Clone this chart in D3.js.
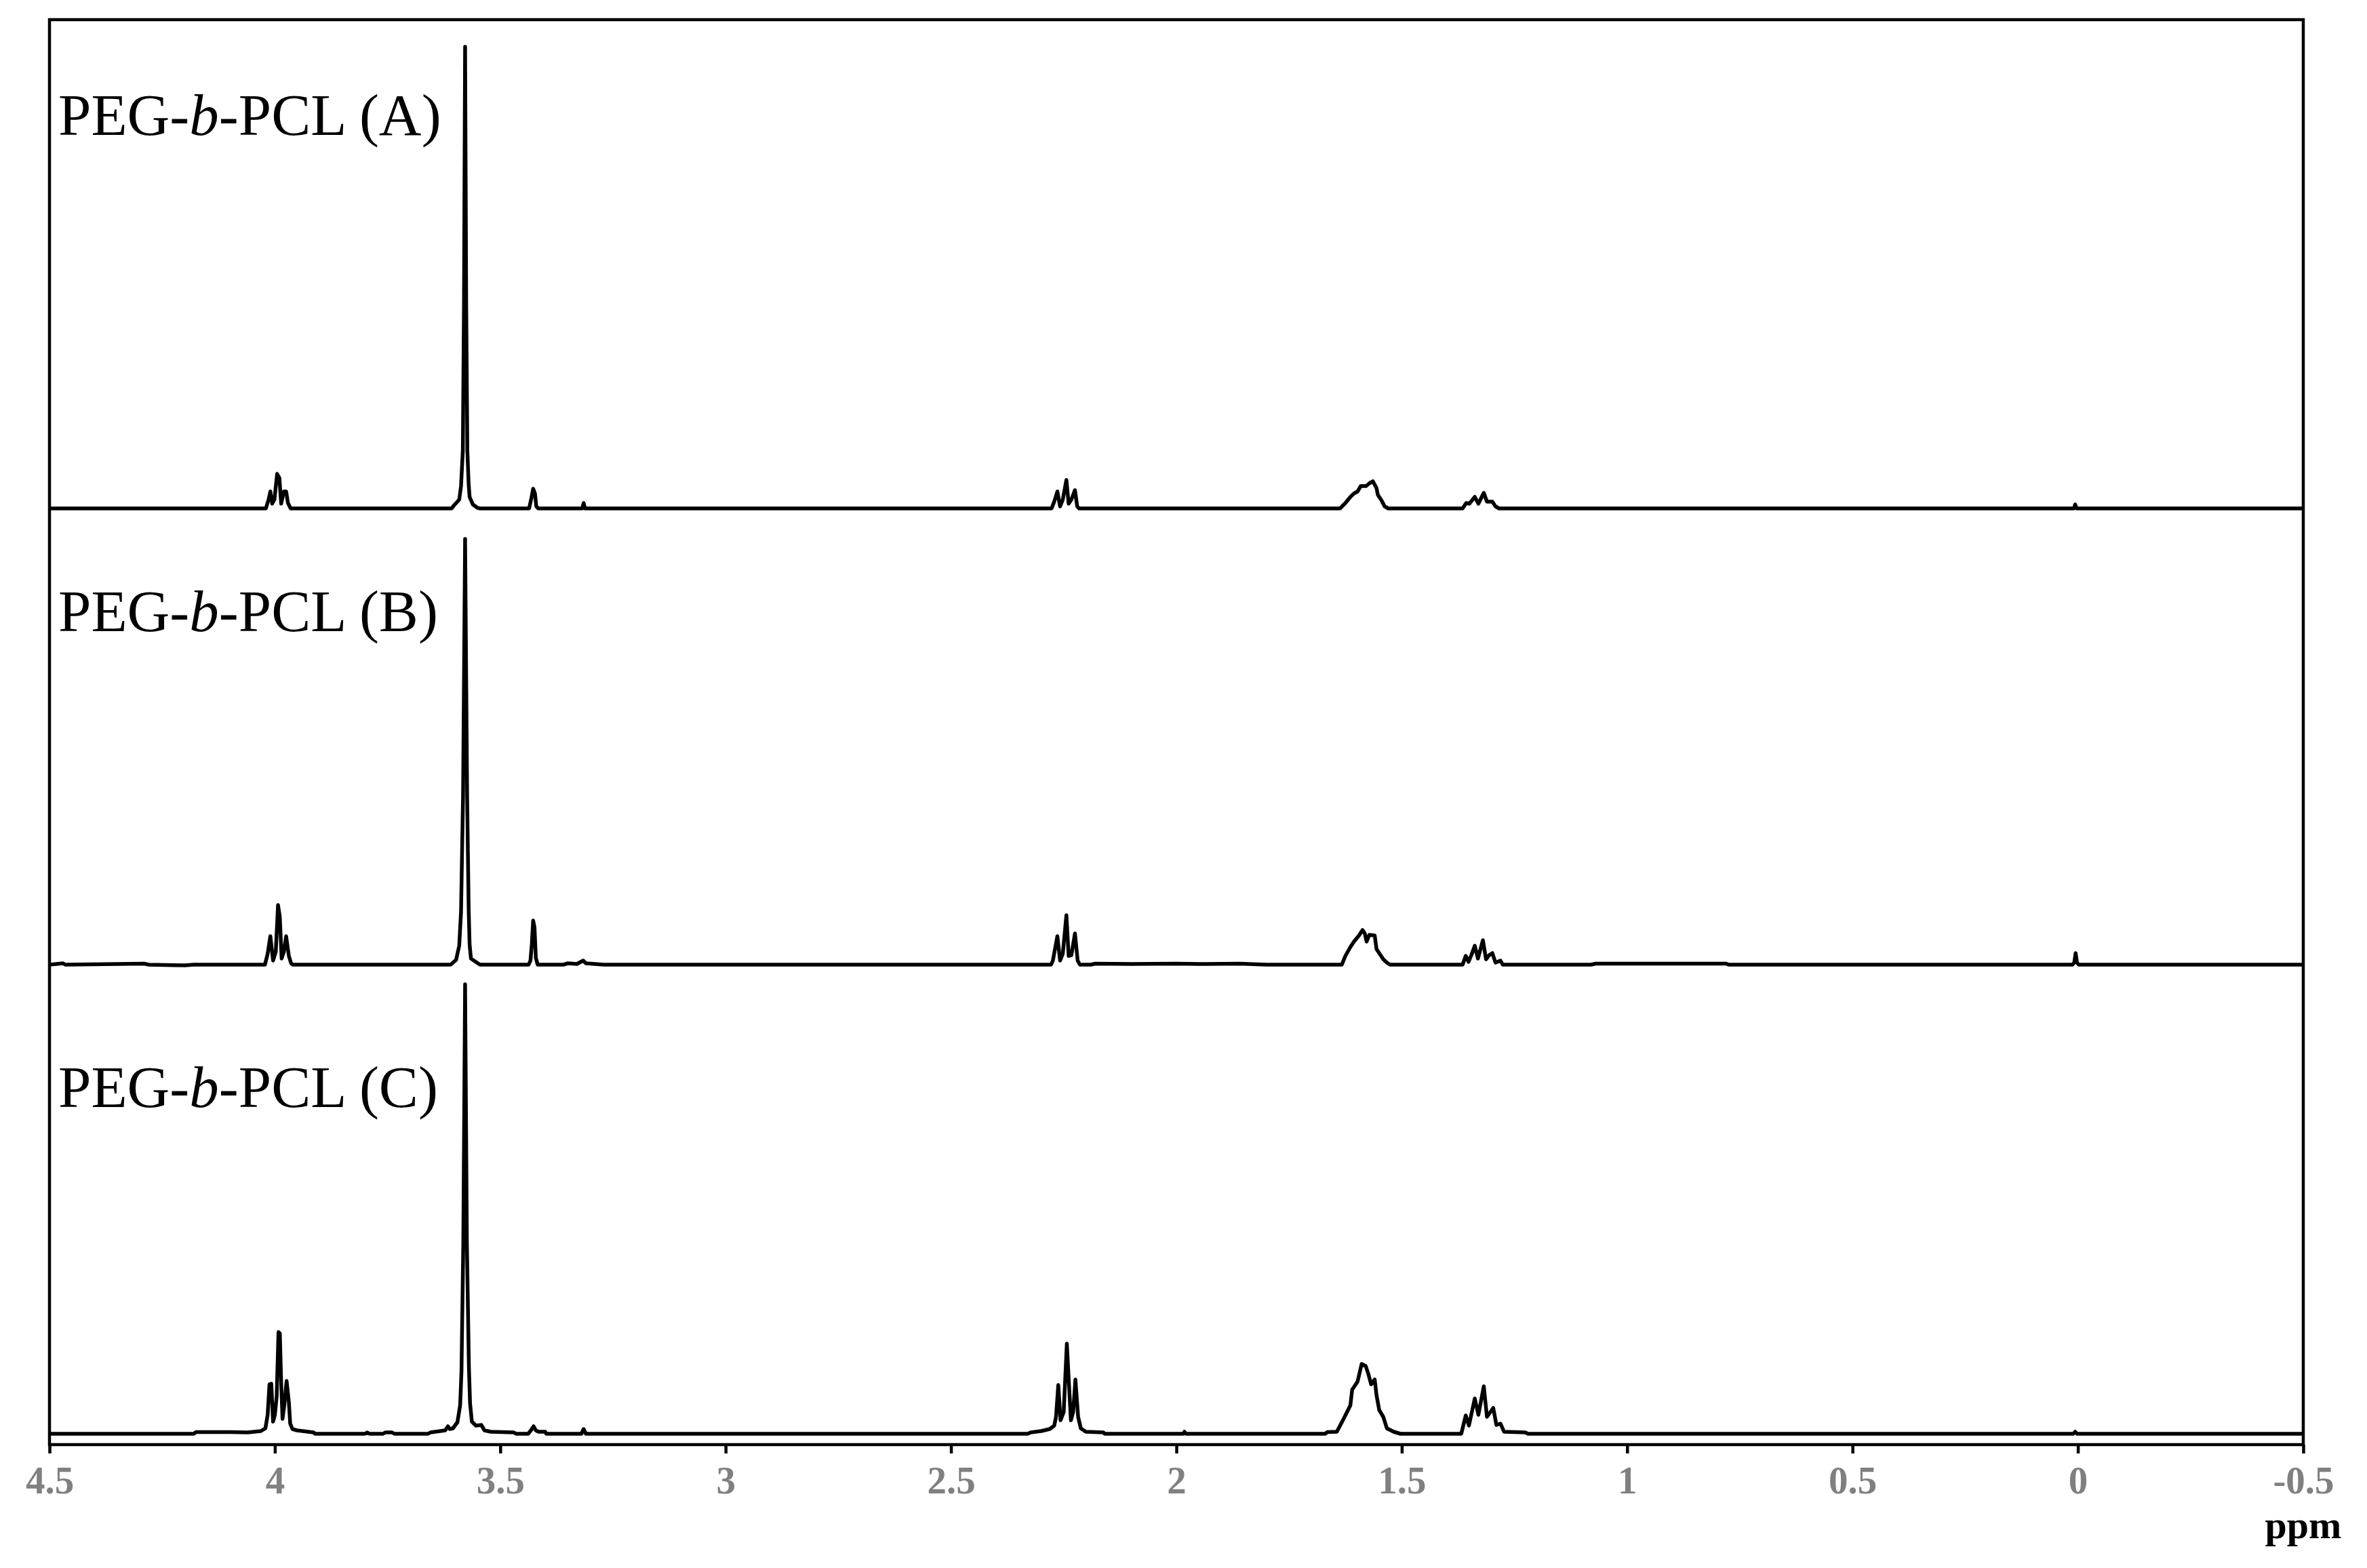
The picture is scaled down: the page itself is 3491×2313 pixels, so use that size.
<!DOCTYPE html>
<html><head><meta charset="utf-8">
<script src="https://cdn.jsdelivr.net/npm/d3@7"></script>
<style>body{margin:0;background:#fff}</style></head>
<body><svg id="c" width="3491" height="2313"></svg>
<script>
// ---- data ----
const tickValues = [4.5, 4, 3.5, 3, 2.5, 2, 1.5, 1, 0.5, 0, -0.5];
const tickLabels = ["4.5", "4", "3.5", "3", "2.5", "2", "1.5", "1", "0.5", "0", "-0.5"];
const axisTitle = "ppm";
const sampleLetters = ["A", "B", "C"];
// stacking offsets of each spectrum (intensity units)
const offsets = [1365, 692, 0];

// [ppm, intensity]
const specA = [
 [4.5,0],[4.02,0],[4.014,13],[4.010,25],[4.006,7],[4.001,13],[3.995,51],[3.990,45],[3.986,7],[3.980,25],[3.975,25],[3.971,8],[3.965,0],
 [3.608,0],[3.602,5],[3.591,13],[3.587,33],[3.583,85],[3.5805,300],[3.578,681],[3.5755,300],[3.573,85],[3.570,35],[3.568,17],[3.561,6],[3.551,1],[3.545,0],
 [3.436,0],[3.431,15],[3.427,29],[3.423,22],[3.420,3],[3.416,0],
 [3.318,0],[3.315,8],[3.312,0],
 [2.277,0],[2.271,10],[2.264,25],[2.258,3],[2.252,13],[2.244,42],[2.239,7],[2.233,13],[2.225,27],[2.220,3],[2.216,0],
 [1.637,0],[1.625,8],[1.614,17],[1.606,22],[1.598,25],[1.591,33],[1.579,33],[1.572,37],[1.564,40],[1.556,30],[1.553,20],[1.545,12],[1.538,3],[1.530,0],
 [1.365,0],[1.357,8],[1.350,7],[1.338,17],[1.330,7],[1.318,23],[1.311,10],[1.299,10],[1.292,3],[1.284,0],
 [0.009,0],[0.006,6],[0.003,0],
 [-0.5,0]
];
const specB = [
 [4.5,0],[4.47,2],[4.465,0],[4.29,1.5],[4.28,0],[4.2,-1],[4.18,0],
 [4.022,0],[4.016,16],[4.010,42],[4.004,6],[3.998,19],[3.993,88],[3.989,70],[3.985,9],[3.980,19],[3.975,42],[3.969,13],[3.964,2],[3.960,0],
 [3.610,0],[3.598,7],[3.591,28],[3.587,78],[3.5825,250],[3.578,628],[3.5735,250],[3.570,80],[3.568,30],[3.565,9],[3.554,4],[3.545,0],
 [3.437,0],[3.433,6],[3.430,30],[3.427,65],[3.424,55],[3.421,10],[3.417,0],
 [3.36,0],[3.35,2],[3.33,1],[3.316,6],[3.31,2],[3.29,1],[3.27,0],
 [2.278,0],[2.274,6],[2.264,42],[2.258,6],[2.252,16],[2.244,73],[2.239,13],[2.233,14],[2.225,46],[2.219,6],[2.214,0],
 [2.19,0],[2.18,1.5],[2.10,1],[2.0,1.5],[1.95,1],[1.86,1.5],[1.80,0],
 [1.633,0],[1.625,13],[1.614,26],[1.606,34],[1.595,43],[1.587,51],[1.582,46],[1.578,34],[1.572,44],[1.560,43],[1.556,23],[1.549,16],[1.541,8],[1.533,3],[1.526,0],
 [1.365,0],[1.358,13],[1.352,4],[1.345,15],[1.338,28],[1.331,9],[1.320,36],[1.313,8],[1.306,14],[1.299,17],[1.292,3],[1.281,6],[1.276,0],
 [1.08,0],[1.07,1.5],[0.78,1.5],[0.775,0],
 [0.012,0],[0.008,3],[0.005,17],[0.002,3],[-0.002,0],
 [-0.5,0]
];
const specC = [
 [4.5,0],[4.18,0],[4.175,2.5],[4.10,2.5],[4.06,2],[4.031,4],[4.021,8],[4.016,28],[4.012,73],[4.008,74],[4.004,18],[4.000,28],[3.996,55],[3.992,150],[3.989,148],[3.986,75],[3.983,22],[3.979,42],[3.974,78],[3.969,47],[3.966,15],[3.961,7],[3.951,5],[3.914,2],[3.911,0],
 [3.80,0],[3.795,2],[3.79,0],[3.76,0],[3.755,2],[3.74,2],[3.735,0],
 [3.660,0],[3.655,2],[3.622,5],[3.616,11],[3.612,7],[3.605,8],[3.595,17],[3.589,42],[3.586,92],[3.582,280],[3.578,663],[3.574,280],[3.5695,98],[3.567,45],[3.563,18],[3.554,12],[3.542,13],[3.535,5],[3.521,3],[3.47,2],[3.465,0],
 [3.438,0],[3.432,5],[3.426,11],[3.421,5],[3.415,3],[3.40,3],[3.398,0],
 [3.32,0],[3.315,7],[3.31,0],
 [2.33,0],[2.323,2],[2.30,4],[2.281,7],[2.271,12],[2.267,25],[2.262,72],[2.257,20],[2.250,32],[2.243,133],[2.239,82],[2.234,20],[2.229,32],[2.224,80],[2.218,25],[2.212,8],[2.201,3],[2.162,2],[2.159,0],
 [1.985,0],[1.982,3],[1.979,0],
 [1.67,0],[1.665,2.5],[1.644,3],[1.629,22],[1.614,42],[1.610,65],[1.598,77],[1.589,103],[1.580,100],[1.574,88],[1.568,73],[1.560,80],[1.556,57],[1.550,35],[1.541,25],[1.533,8],[1.518,3],[1.503,0],
 [1.368,0],[1.358,27],[1.351,12],[1.338,52],[1.330,28],[1.318,70],[1.311,25],[1.297,38],[1.290,13],[1.281,15],[1.273,3],[1.226,2],[1.22,0],
 [0.01,0],[0.006,3],[0.002,0],
 [-0.5,0]
];
const spectra = [specA, specB, specC];

// ---- layout ----
const svg = d3.select("#c");
const F = {left: 73, right: 3397, top: 29, bottom: 2131};
const serif = "'Liberation Serif','Times New Roman',Times,serif";
const x = d3.scaleLinear().domain([4.5, -0.5]).range([F.left, F.right]);
const y = d3.scaleLinear().domain([-16, 2086]).range([F.bottom, F.top]);

svg.append("rect").attr("width", 3491).attr("height", 2313).attr("fill", "#fff");

svg.append("defs").append("clipPath").attr("id", "clip")
  .append("rect").attr("x", F.left).attr("y", F.top)
  .attr("width", F.right - F.left).attr("height", F.bottom - F.top);

const line = d3.line();
const g = svg.append("g").attr("clip-path", "url(#clip)");
spectra.forEach((s, i) => {
  g.append("path")
    .attr("d", line(s.map(d => [x(d[0]), y(offsets[i] + d[1])])))
    .attr("fill", "none").attr("stroke", "#000")
    .attr("stroke-width", 5.5).attr("stroke-linejoin", "round");
});

// frame
svg.append("rect").attr("x", F.left).attr("y", F.top)
  .attr("width", F.right - F.left).attr("height", F.bottom - F.top)
  .attr("fill", "none").attr("stroke", "#000").attr("stroke-width", 4.5);

// axis
const ax = svg.append("g").attr("transform", `translate(0,${F.bottom})`)
  .call(d3.axisBottom(x).tickValues(tickValues).tickFormat((d, i) => tickLabels[i]).tickSize(13));
ax.select(".domain").remove();
ax.selectAll(".tick line").attr("stroke", "#000").attr("stroke-width", 4.5);
ax.selectAll(".tick text").attr("y", 72).attr("dy", null)
  .attr("font-family", serif).attr("font-weight", "bold").attr("font-size", 57).attr("fill", "#808080");

svg.append("text").attr("x", F.right).attr("y", 2269).attr("text-anchor", "middle")
  .attr("font-family", serif).attr("font-weight", "bold").attr("font-size", 58).attr("fill", "#000")
  .text(axisTitle);

// sample labels
const labelY = [199, 931, 1633];
sampleLetters.forEach((L, i) => {
  const t = svg.append("text").attr("x", 86).attr("y", labelY[i])
    .attr("font-family", serif).attr("font-size", 87).attr("fill", "#000");
  t.append("tspan").text("PEG-");
  t.append("tspan").attr("font-style", "italic").text("b");
  t.append("tspan").text(`-PCL (${L})`);
});
</script>
</body></html>
